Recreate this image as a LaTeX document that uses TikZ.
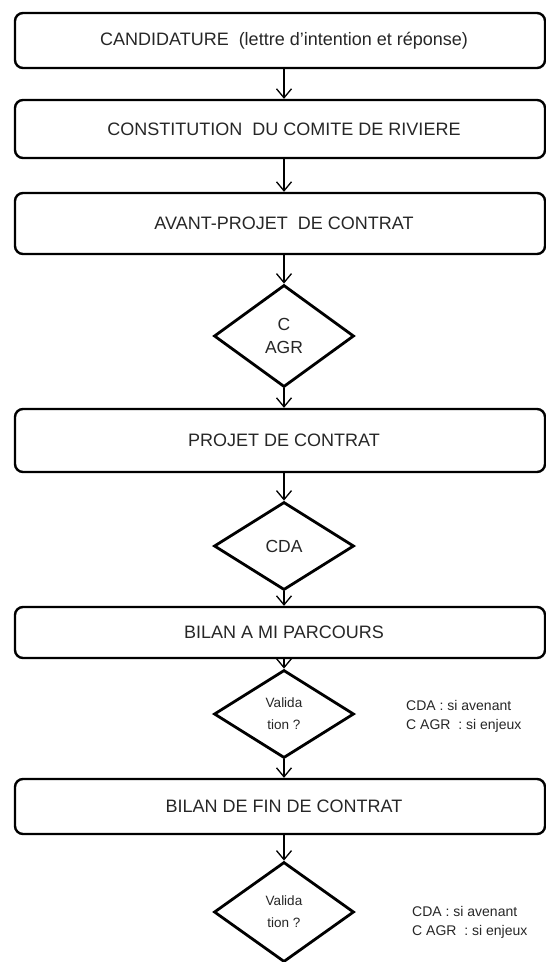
\documentclass[tikz,border=0pt]{standalone}
\usepackage{fontspec}
\setmainfont{Liberation Sans}
\usetikzlibrary{arrows.meta,shapes.geometric}
\tikzset{
	etape/.style={draw, line width=2.4pt, rounded corners=8pt, minimum width=530pt, inner sep=0pt, text=black!85, font=\fontsize{18}{20}\selectfont, execute at begin node=\hspace*{8pt}},
	avis/.style={draw, diamond, line width=2.8pt, minimum width=140pt, inner sep=0pt, align=center, text=black!85},
	remarque/.style={anchor=west, align=left, inner sep=0pt, text=black!85, font=\fontsize{14}{19}\selectfont},
	fleche/.style={line width=1.3pt, -{Straight Barb[length=9pt,width=15pt,line width=1.3pt]}}
}

\begin{document}
\begin{tikzpicture}[x=1pt, y=-1pt]
			%%%%% START %%%%%
			\useasboundingbox (0, 0) rectangle (546, 962);
			
			\node[etape, minimum height=55pt] (candidature) at (280, 40.5) {CANDIDATURE\ \ (lettre d’intention et réponse)};
			\node[etape, minimum height=58pt] (comite) at (280, 129) {CONSTITUTION\ \ DU COMITE DE RIVIERE};
			\node[etape, minimum height=61pt] (avantprojet) at (280, 223.5) {AVANT-PROJET\ \ DE CONTRAT};
			
			\node[avis, minimum height=102pt, font=\fontsize{17.5}{23}\selectfont] (cagr) at (284, 336) {C\\AGR};
			
			\node[etape, minimum height=63pt] (projet) at (280, 440.5) {PROJET DE CONTRAT};
			
			\node[avis, minimum height=88pt, font=\fontsize{17.5}{20}\selectfont] (cda) at (284, 546) {CDA};
			
			\node[etape, minimum height=51pt] (mibilan) at (280, 632.5) {BILAN A MI PARCOURS};
			
			\node[avis, minimum height=88pt, font=\fontsize{13.5}{22}\selectfont] (valid1) at (284, 714) {Valida\\tion ?};
			\node[remarque] (note1) at (406, 716) {CDA : si avenant\\C AGR\ \ : si enjeux};
			
			\node[etape, minimum height=55pt] (finbilan) at (280, 806.5) {BILAN DE FIN DE CONTRAT};
			
			\node[avis, minimum height=100pt, font=\fontsize{13.5}{22}\selectfont] (valid2) at (284, 912) {Valida\\tion ?};
			\node[remarque] (note2) at (412, 922) {CDA : si avenant\\C AGR\ \ : si enjeux};
			
			% liaisons
			\draw[fleche] (candidature.south -| cagr) -- (comite.north -| cagr);
			\draw[fleche] (comite.south -| cagr) -- (avantprojet.north -| cagr);
			\draw[fleche] (avantprojet.south -| cagr) -- (cagr);
			\draw[fleche] (cagr) -- (projet.north -| cagr);
			\draw[fleche] (projet.south -| cda) -- (cda);
			\draw[fleche] (cda) -- (mibilan.north -| cda);
			\draw[fleche] (mibilan.south -| valid1) -- (valid1);
			\draw[fleche] (valid1) -- (finbilan.north -| valid1);
			\draw[fleche] (finbilan.south -| valid2) -- (valid2);
			
			%%%%% END %%%%%
		\end{tikzpicture}
\end{document}
